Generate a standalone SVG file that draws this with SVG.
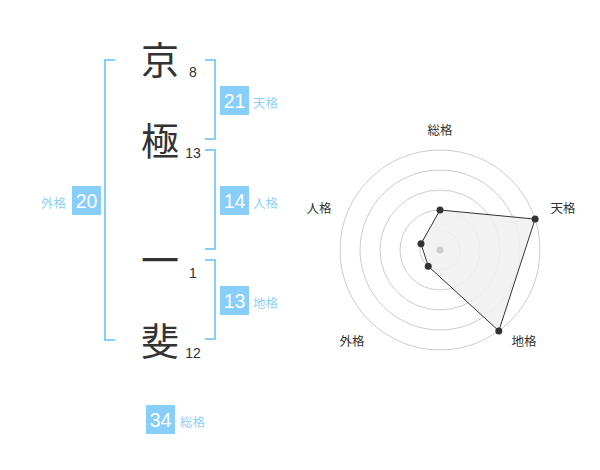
<svg xmlns="http://www.w3.org/2000/svg" width="600" height="470" viewBox="0 0 600 470">
<style>
.kanji{font-family:"Noto Sans CJK JP","Noto Sans CJK SC",sans-serif;font-size:38px;fill:#333;text-anchor:middle}
.num{font-family:"Liberation Sans",Arial,sans-serif;font-size:14px;fill:#333;text-anchor:middle}
.box{fill:#87cefa}
.bval{font-family:"Liberation Sans",Arial,sans-serif;font-size:19.5px;fill:#fff;text-anchor:middle}
.blab{font-family:"Noto Sans CJK JP",sans-serif;font-size:12.5px;fill:#8fd0f8}
.br{fill:none;stroke:#87cefa;stroke-width:2}
.ring{fill:none;stroke:#ccc;stroke-width:1}
.rlab{font-family:"Noto Sans CJK JP",sans-serif;font-size:12.5px;fill:#333;text-anchor:middle}
.pt{fill:#333}
</style>
<rect width="600" height="470" fill="#fff"/>
<g id="chars">
<g id="c1"><text class="kanji" x="160" y="74">京</text><text class="num" x="193" y="77">8</text></g>
<g id="c2"><text class="kanji" x="160" y="155">極</text><text class="num" x="193" y="158">13</text></g>
<g id="c3"><text class="kanji" x="160" y="274">一</text><text class="num" x="193" y="278">1</text></g>
<g id="c4"><text class="kanji" x="160" y="355">斐</text><text class="num" x="193" y="358">12</text></g>
</g>
<g id="connectors">
<path class="br" d="M115,60 H105 V340 H115"/>
<path class="br" d="M205,60 H215 V139 H205"/>
<path class="br" d="M205,150 H215 V249 H205"/>
<path class="br" d="M205,260 H215 V339 H205"/>
</g>
<g id="tenkaku"><rect class="box" x="220" y="86" width="29" height="29"/><text class="bval" x="234.5" y="107.5">21</text><text class="blab" x="253" y="108">天格</text></g>
<g id="jinkaku"><rect class="box" x="220" y="186" width="29" height="29"/><text class="bval" x="234.5" y="207.5">14</text><text class="blab" x="253" y="208">人格</text></g>
<g id="gaikaku"><rect class="box" x="72" y="186" width="29" height="29"/><text class="bval" x="86.5" y="207.5">20</text><text class="blab" x="66" y="208" text-anchor="end">外格</text></g>
<g id="chikaku"><rect class="box" x="220" y="286" width="29" height="29"/><text class="bval" x="234.5" y="307.5">13</text><text class="blab" x="253" y="308">地格</text></g>
<g id="soukaku"><rect class="box" x="146" y="405" width="29" height="29"/><text class="bval" x="160.5" y="426.5">34</text><text class="blab" x="180" y="427">総格</text></g>
<g id="radar">
<circle class="ring" cx="440" cy="250" r="20"/>
<circle class="ring" cx="440" cy="250" r="40"/>
<circle class="ring" cx="440" cy="250" r="60"/>
<circle class="ring" cx="440" cy="250" r="80"/>
<circle class="ring" cx="440" cy="250" r="100"/>
<polygon points="440,210 535.1,219.1 498.8,330.9 428.2,266.2 421,243.8" fill="#f0f0f0" fill-opacity="0.85" stroke="#333" stroke-width="1"/>
<circle cx="440" cy="250" r="3.5" fill="#ccc"/>
<circle class="pt" cx="440" cy="210" r="3.5"/>
<circle class="pt" cx="535.1" cy="219.1" r="3.5"/>
<circle class="pt" cx="498.8" cy="330.9" r="3.5"/>
<circle class="pt" cx="428.2" cy="266.2" r="3.5"/>
<circle class="pt" cx="421" cy="243.8" r="3.5"/>
<text class="rlab" x="440" y="135">総格</text>
<text class="rlab" x="563" y="213">天格</text>
<text class="rlab" x="524" y="346">地格</text>
<text class="rlab" x="352" y="346">外格</text>
<text class="rlab" x="319" y="213">人格</text>
</g>
</svg>
